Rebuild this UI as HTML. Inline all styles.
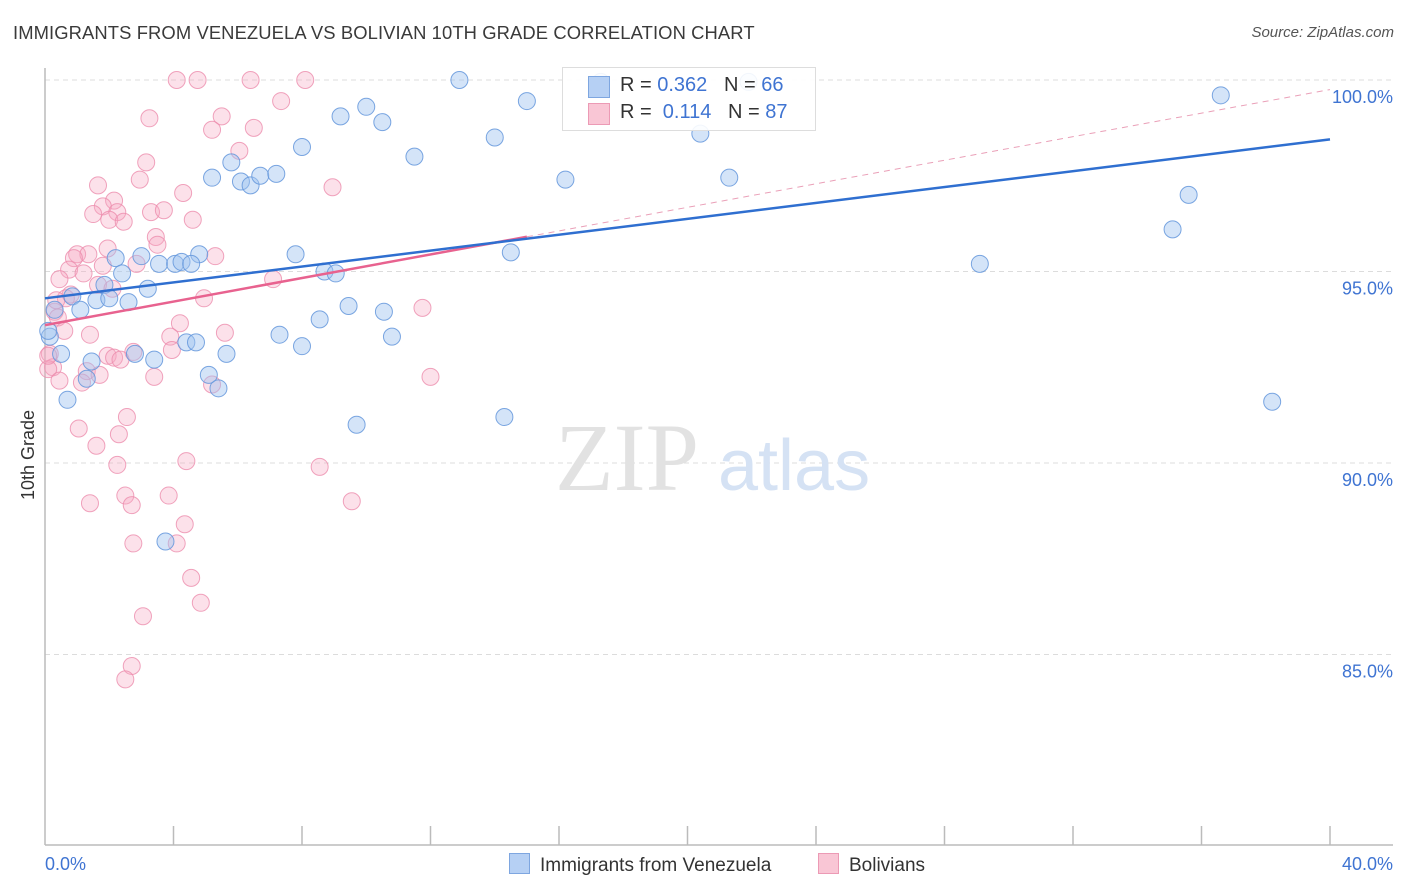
<!DOCTYPE html>
<html><head><meta charset="utf-8"><style>
body{margin:0;background:#fff;font-family:"Liberation Sans",sans-serif;}
#wrap{position:relative;width:1406px;height:892px;overflow:hidden;}
.t{position:absolute;white-space:nowrap;}
</style></head><body>
<div id="wrap">
<div class="t" style="left:13px;top:22px;font-size:18.4px;color:#3a3a3a;letter-spacing:0.1px">IMMIGRANTS FROM VENEZUELA VS BOLIVIAN 10TH GRADE CORRELATION CHART</div>
<div class="t" style="right:12px;top:24px;font-size:15px;color:#555;font-style:italic">Source: ZipAtlas.com</div>
<svg id="svg" width="1406" height="892" style="position:absolute;left:0;top:0"></svg>
</div>
<script>
const xTicksLabels=["0.0%","40.0%"];
const yTickVals=[100,95,90,85];
const yTickLabels=["100.0%","95.0%","90.0%","85.0%"];
const blueX=[12.9,36.6,15.0,10.0,9.2,10.5,14.0,20.4,8.0,11.5,5.8,5.2,6.1,6.4,6.7,7.2,16.2,21.3,35.6,35.1,29.1,14.5,7.8,4.8,3.0,3.55,4.05,4.25,4.55,2.2,2.4,1.85,3.2,8.7,9.05,0.85,1.6,2.0,2.6,1.1,9.45,10.55,8.55,0.3,7.3,10.8,4.4,4.7,8.0,0.15,0.5,5.65,2.8,3.4,1.45,1.3,5.1,5.4,0.7,9.7,14.3,38.2,3.75,17.3,21.9,0.1];
const blueY=[100.0,99.6,99.45,99.3,99.05,98.9,98.5,98.6,98.25,98.0,97.85,97.45,97.35,97.25,97.5,97.55,97.4,97.45,97.0,96.1,95.2,95.5,95.45,95.45,95.4,95.2,95.2,95.25,95.2,95.35,94.95,94.65,94.55,95.0,94.95,94.35,94.25,94.3,94.2,94.0,94.1,93.95,93.75,94.0,93.35,93.3,93.15,93.15,93.05,93.3,92.85,92.85,92.85,92.7,92.65,92.2,92.3,91.95,91.65,91.0,91.2,91.6,87.95,99.95,99.95,93.45];
const pinkX=[4.1,4.75,6.4,8.1,5.5,3.25,5.2,6.5,7.35,6.05,3.15,2.95,8.95,1.65,4.3,2.15,1.8,2.25,1.5,2.0,2.45,3.3,3.7,4.6,3.45,3.5,1.95,1.0,1.35,0.9,1.8,2.85,5.3,0.75,1.2,0.45,1.65,2.1,0.8,0.65,4.95,7.1,11.75,0.3,0.4,4.2,0.6,1.4,5.6,3.9,3.95,0.15,1.95,2.75,2.15,0.25,0.1,1.3,1.7,3.4,1.15,0.45,5.2,12.0,2.55,1.05,2.3,1.6,4.4,2.25,8.55,2.5,3.85,2.7,1.4,9.55,4.35,2.75,4.1,4.55,4.85,3.05,2.7,2.5,0.1,0.35,2.35];
const pinkY=[100,100,100,100,99.05,99.0,98.7,98.75,99.45,98.15,97.85,97.4,97.2,97.25,97.05,96.85,96.7,96.55,96.5,96.35,96.3,96.55,96.6,96.35,95.9,95.7,95.6,95.45,95.45,95.35,95.15,95.2,95.4,95.05,94.95,94.8,94.65,94.55,94.4,94.3,94.3,94.8,94.05,93.95,93.8,93.65,93.45,93.35,93.4,93.3,92.95,92.85,92.8,92.9,92.75,92.5,92.45,92.4,92.3,92.25,92.1,92.15,92.05,92.25,91.2,90.9,90.75,90.45,90.05,89.95,89.9,89.15,89.15,88.9,88.95,89.0,88.4,87.9,87.9,87.0,86.35,86.0,84.7,84.35,92.8,94.25,92.7];
const blueTrend=[94.3,98.45];
const pinkTrend=[93.6,99.75];
const pinkSolidEnd=15;

const X0=45,X1=1330,Y100=80,PX5=191.5;
const sx=v=>X0+(X1-X0)*v/40;
const sy=v=>Y100+(100-v)/5*PX5;
const svg=document.getElementById('svg');
const NS='http://www.w3.org/2000/svg';
function mk(tag,attrs){const e=document.createElementNS(NS,tag);for(const k in attrs)e.setAttribute(k,attrs[k]);svg.appendChild(e);return e;}

yTickVals.forEach((v,i)=>{
  const g=mk('line',{x1:X0,x2:1393,y1:sy(v),y2:sy(v),stroke:'#dcdcdc','stroke-dasharray':'5,4','stroke-width':1});
  
  
  const t=mk('text',{x:1393,y:sy(v)+23,'text-anchor':'end','font-size':18,fill:'#3f74d2','font-family':'Liberation Sans, sans-serif'});
  t.textContent=yTickLabels[i];
  
  
});
const ax=mk('line',{x1:X0,x2:X0,y1:68,y2:845,stroke:'#bbb','stroke-width':1.5});


const bx=mk('line',{x1:X0,x2:1393,y1:845,y2:845,stroke:'#bbb','stroke-width':1.5});


for(let i=1;i<=10;i++){
  const tk=mk('line',{x1:sx(i*4),x2:sx(i*4),y1:826,y2:845,stroke:'#bbb','stroke-width':1.5});
  
  
}
const xl0=mk('text',{x:45,y:870,'font-size':18,fill:'#3f74d2','font-family':'Liberation Sans, sans-serif'});xl0.textContent=xTicksLabels[0];


const xl1=mk('text',{x:1393,y:870,'text-anchor':'end','font-size':18,fill:'#3f74d2','font-family':'Liberation Sans, sans-serif'});xl1.textContent=xTicksLabels[1];


const yt=mk('text',{x:0,y:0,transform:'translate(34,455) rotate(-90)','text-anchor':'middle','font-size':18,fill:'#333','font-family':'Liberation Sans, sans-serif'});yt.textContent='10th Grade';


const wm=mk('text',{x:555,y:490,'font-size':96,fill:'#e2e2e2','font-family':'Liberation Serif, serif'});wm.textContent='ZIP';


const wm2=mk('text',{x:718,y:490,'font-size':72,fill:'#d5e2f4','font-family':'Liberation Sans, sans-serif'});wm2.textContent='atlas';


pinkX.forEach((v,i)=>{
  const c=mk('circle',{cx:sx(v),cy:sy(pinkY[i]),r:8.5,fill:'rgba(247,170,195,0.35)',stroke:'rgba(236,140,172,0.8)','stroke-width':1});
  
  
});
blueX.forEach((v,i)=>{
  const c=mk('circle',{cx:sx(v),cy:sy(blueY[i]),r:8.5,fill:'rgba(160,195,240,0.45)',stroke:'rgba(100,150,220,0.85)','stroke-width':1});
  
  
});
const pinkAt=x=>pinkTrend[0]+(pinkTrend[1]-pinkTrend[0])*x/40;
const pd=mk('line',{x1:sx(pinkSolidEnd),y1:sy(pinkAt(pinkSolidEnd)),x2:sx(40),y2:sy(pinkTrend[1]),stroke:'#eaa0b8','stroke-width':1,'stroke-dasharray':'6,5'});


const ps=mk('line',{x1:sx(0),y1:sy(pinkTrend[0]),x2:sx(pinkSolidEnd),y2:sy(pinkAt(pinkSolidEnd)),stroke:'#e8628f','stroke-width':2.5});


const bl=mk('line',{x1:sx(0),y1:sy(blueTrend[0]),x2:sx(40),y2:sy(blueTrend[1]),stroke:'#2f6fd0','stroke-width':2.5});


</script>
<div class="t" style="left:562px;top:67px;width:252px;height:62px;border:1px solid #ddd;background:rgba(255,255,255,0.9);font-size:20px;color:#333">
  <div style="position:absolute;left:25px;top:8px;width:20px;height:20px;background:#b6d0f4;border:1px solid #7ea6e0"></div>
  <div class="t" style="left:57px;top:6px">R = <span style="color:#3f74d2">0.362</span>&nbsp;&nbsp;&nbsp;N = <span style="color:#3f74d2">66</span></div>
  <div style="position:absolute;left:25px;top:35px;width:20px;height:20px;background:#f9c6d5;border:1px solid #ec9ab5"></div>
  <div class="t" style="left:57px;top:33px">R = &nbsp;<span style="color:#3f74d2">0.114</span>&nbsp;&nbsp;&nbsp;N = <span style="color:#3f74d2">87</span></div>
</div>
<div class="t" style="left:509px;top:853px;font-size:19px;color:#333">
  <span style="display:inline-block;width:19px;height:19px;background:#b6d0f4;border:1px solid #7ea6e0;vertical-align:-3px;margin-right:10px"></span>Immigrants from Venezuela</div>
<div class="t" style="left:818px;top:853px;font-size:19px;color:#333">
  <span style="display:inline-block;width:19px;height:19px;background:#f9c6d5;border:1px solid #ec9ab5;vertical-align:-3px;margin-right:10px"></span>Bolivians</div>
</body></html>
